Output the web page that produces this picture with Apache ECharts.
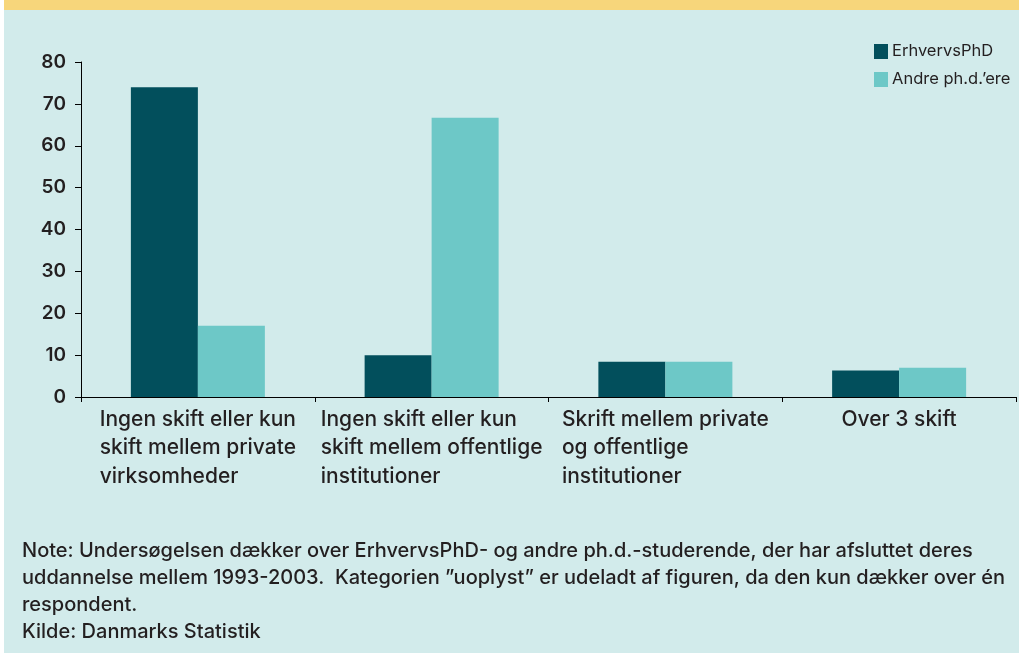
<!DOCTYPE html>
<html>
<head>
<meta charset="utf-8">
<script src="https://cdn.jsdelivr.net/npm/echarts@6/dist/echarts.min.js"></script>
<style>
  html, body { margin: 0; padding: 0; background: #ffffff; }
  #bg { position: absolute; left: 4px; top: 0; width: 1015px; height: 653px; background: #d2ebeb; }
  #band { position: absolute; left: 4px; top: 0; width: 1015px; height: 10px; background: #f7d67b; }
  #chart { position: absolute; left: 0; top: 0; width: 1019px; height: 653px; }
</style>
</head>
<body>
<div id="bg"></div>
<div id="band"></div>
<div id="chart"></div>
<script>
// kategorier og værdier
const categories = [
    'Ingen skift eller kun\nskift mellem private\nvirksomheder',
    'Ingen skift eller kun\nskift mellem offentlige\ninstitutioner',
    'Skrift mellem private\nog offentlige\ninstitutioner',
    'Over 3 skift'
];
const erhvervsPhD = [74, 10, 8.4, 6.3];
const andrePhd = [17, 66.7, 8.4, 7.0];
const seriesNames = ['ErhvervsPhD', 'Andre ph.d.\u2019ere'];
const yTicks = { min: 0, max: 80, interval: 10 };

const noteLines = [
    'Note: Undersøgelsen dækker over ErhvervsPhD- og andre ph.d.-studerende, der har afsluttet deres',
    'uddannelse mellem 1993-2003.  Kategorien \u201duoplyst\u201d er udeladt af figuren, da den kun dækker over én',
    'respondent.',
    'Kilde: Danmarks Statistik'
];

const FONT = 'Inter';
const INK = '#231f20';

const chart = echarts.init(document.getElementById('chart'));

const option = {
    backgroundColor: 'transparent',
    animation: false,
    textStyle: { fontFamily: FONT },
    title: {
        text: noteLines.join('\n'),
        left: 22,
        top: 537,
        padding: 0,
        textStyle: {
            fontFamily: FONT,
            fontSize: 20,
            fontWeight: 500,
            color: INK,
            lineHeight: 27
        }
    },
    legend: {
        orient: 'vertical',
        left: 874,
        top: 43,
        itemWidth: 14,
        itemHeight: 15,
        itemGap: 11,
        padding: 0,
        icon: 'rect',
        textStyle: { fontFamily: FONT, fontSize: 16.5, color: INK, padding: [0, 0, 0, -1] },
        data: seriesNames
    },
    grid: {
        left: 81,
        right: 3,
        top: 62,
        bottom: 256,
        containLabel: false
    },
    xAxis: {
        type: 'category',
        data: categories,
        axisLine: { lineStyle: { color: '#000000', width: 1 } },
        axisTick: { show: true, length: 5, lineStyle: { color: '#000000' } },
        axisLabel: {
            interval: 0,
            margin: 8,
            formatter: (v) => v.split('\n').map(l => '{a|' + l + '}').join('\n'),
            rich: {
                a: {
                    align: 'left',
                    fontFamily: FONT,
                    fontSize: 21,
                    fontWeight: 500,
                    lineHeight: 28.5,
                    color: INK
                }
            }
        }
    },
    yAxis: {
        type: 'value',
        min: yTicks.min,
        max: yTicks.max,
        interval: yTicks.interval,
        splitLine: { show: false },
        axisLine: { show: true, lineStyle: { color: '#000000', width: 1 } },
        axisTick: { show: true, length: 6, lineStyle: { color: '#000000' } },
        axisLabel: {
            margin: 15,
            fontFamily: FONT,
            fontSize: 19,
            fontWeight: 600,
            color: INK
        }
    },
    series: [
        {
            name: seriesNames[0],
            type: 'bar',
            data: erhvervsPhD,
            barWidth: 67,
            barGap: '0%',
            itemStyle: { color: '#024f5c' }
        },
        {
            name: seriesNames[1],
            type: 'bar',
            data: andrePhd,
            barWidth: 67,
            barGap: '0%',
            itemStyle: { color: '#6dc8c7' }
        }
    ]
};

chart.setOption(option);
</script>
</body>
</html>
